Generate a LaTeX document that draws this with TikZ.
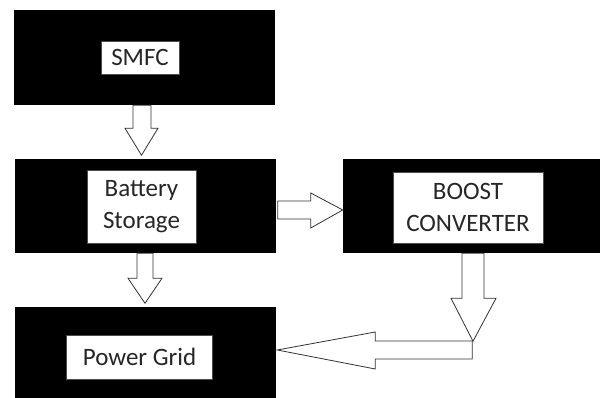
\documentclass[tikz,border=0pt]{standalone}
\usepackage{fontspec}
\setmainfont{Carlito}
\usetikzlibrary{calc}

\begin{document}
\begin{tikzpicture}[
  x=0.75pt, y=0.75pt,
  every node/.style={font=\fontsize{18.75}{23.6}\selectfont, text=black!85},
  blk/.style={fill=black, inner sep=0pt},
  lbl/.style={fill=white, draw=black!70, line width=0.5pt, align=center, inner sep=0pt},
  hollow/.style={draw=black!80, fill=white, line width=0.6pt, line join=miter},
]

\useasboundingbox (0,0) rectangle (600,398);

% black blocks
\node[blk, minimum width=195.75pt, minimum height=71.25pt] (smfc) at (144.5,340.5) {};
\node[blk, minimum width=195.75pt, minimum height=70.5pt] (batt) at (145,192) {};
\node[blk, minimum width=192.75pt, minimum height=70.5pt] (boost) at (471.5,192) {};
\node[blk, minimum width=195.75pt, minimum height=68.25pt] (grid) at (145.5,45.5) {};

% labels
\node[lbl, minimum width=58.5pt, minimum height=24.75pt] (smfcl) at (140,340.5) {SMFC};
\node[lbl, minimum width=81.75pt, minimum height=54.75pt] (battl) at (141.5,191.5) {Battery\\Storage};
\node[lbl, minimum width=112.5pt, minimum height=53.25pt] (boostl) at (468,190.5) {BOOST\\CONVERTER};
\node[lbl, minimum width=109.5pt, minimum height=33pt] (gridl) at (139.5,41) {Power Grid};

% hollow arrows
\draw[hollow] ($(smfc.south)+(-11.5,0)$) -- ++(0,-23) -- ++(-8,0) -- ++(16.5,-27)
  -- ++(16.5,27) -- ++(-7,0) -- ++(0,23) -- cycle;
\draw[hollow] ($(batt.south)+(-8,0)$) -- ++(0,-25) -- ++(-9,0) -- ++(17,-25)
  -- ++(17,25) -- ++(-9,0) -- ++(0,25) -- cycle;
\draw[hollow] ($(batt.east)+(2,5)$) -- ++(33,0) -- ++(0,8) -- ++(32,-17)
  -- ++(-32,-18) -- ++(0,9) -- ++(-33,0) -- cycle;
\draw[hollow] ($(boost.south)+(-9.5,0)$) -- ++(0,-45) -- ++(-11,0) -- ++(22,-43)
  -- ++(23,43) -- ++(-12,0) -- ++(0,45) -- cycle;
\draw[hollow] ($(grid.east)+(1,2.5)$) -- ++(98,18) -- ++(0,-9) -- ++(97,0)
  -- ++(0,-18) -- ++(-97,0) -- ++(0,-10) -- cycle;

\end{tikzpicture}
\end{document}
